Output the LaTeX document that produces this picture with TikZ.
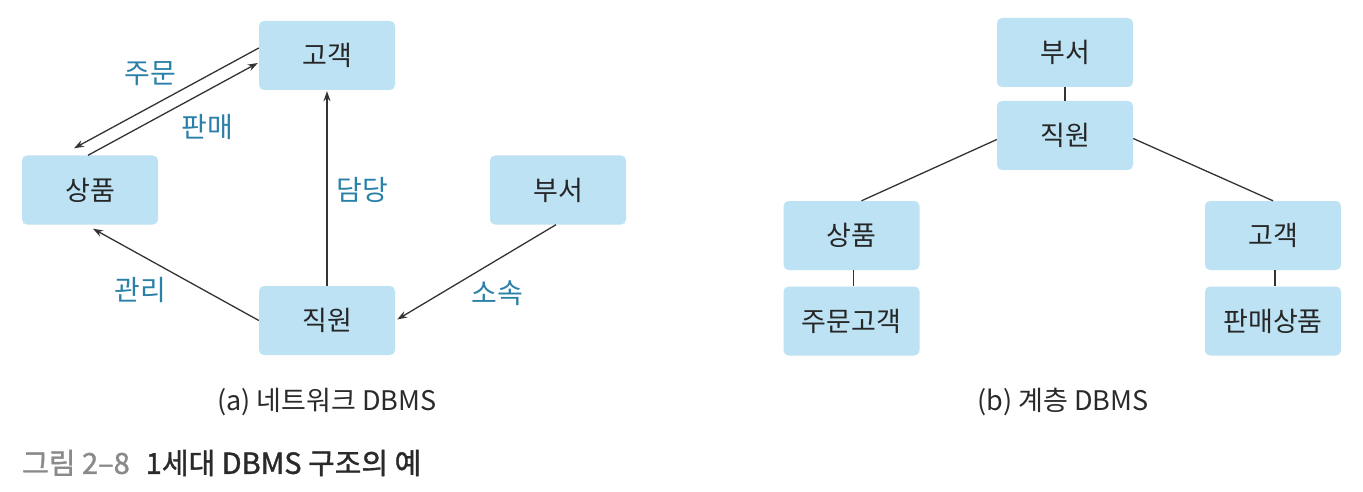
\documentclass[tikz,border=0pt]{standalone}
\usepackage{fontspec}
\setmainfont{Noto Sans CJK KR}
\newfontfamily\capfont{Noto Sans CJK KR}[FakeBold=1.2]
\usetikzlibrary{arrows.meta}
\definecolor{boxfill}{HTML}{BCE2F4}
\definecolor{lblue}{HTML}{2A80A8}
\definecolor{lineg}{HTML}{333333}
\definecolor{capgray}{HTML}{8A8A8A}
\definecolor{captext}{HTML}{2A2A2A}
\tikzset{
  ent/.style={fill=boxfill, draw=none, rounded corners=5pt, minimum width=136pt, minimum height=69pt, inner sep=0pt, font=\fontsize{27}{30}\selectfont, text=black!85},
  con/.style={draw=lineg, line width=1.3pt},
  arr/.style={con, -{Stealth[length=10pt,width=7pt]}},
  lab/.style={text=lblue, font=\fontsize{28}{30}\selectfont, inner sep=0pt},
  captxt/.style={font=\fontsize{27}{30}\selectfont, text=captext, inner sep=0pt}
}
\begin{document}
\begin{tikzpicture}[x=1pt,y=-1pt]
\useasboundingbox (0,0) rectangle (1363,492);
% (a) network
\node[ent] (go) at (327,55.5) {고객};
\node[ent] (sp) at (90,190) {상품};
\node[ent] (bs) at (558,190) {부서};
\node[ent] (jw) at (327,320.5) {직원};
\draw[arr] ([yshift=7.5pt]go.west) -- ([xshift=-16pt,yshift=7pt]sp.north);
\draw[arr] ([xshift=-2pt]sp.north) -- ([yshift=-7.5pt,xshift=-1pt]go.west);
\draw[arr] (jw.north) -- ([yshift=-1pt]go.south);
\draw[arr] (jw.west) -- ([xshift=3pt,yshift=-4pt]sp.south);
\draw[arr] ([xshift=-2pt]bs.south) -- ([xshift=2pt,yshift=1pt]jw.east);
\node[lab] (l1) at (150,74) {주문};
\node[lab] (l2) at (207,127) {판매};
\node[lab] (l3) at (362,190) {담당};
\node[lab] (l4) at (140,290) {관리};
\node[lab] (l5) at (497,293) {소속};
\node[captxt] (ca) at (327,402) {(a) 네트워크 DBMS};
% (b) hierarchical
\node[ent] (hb) at (1065,52.5) {부서};
\node[ent] (hj) at (1065,135.5) {직원};
\node[ent] (hs) at (851.5,235.5) {상품};
\node[ent] (hc) at (1273,235.5) {고객};
\node[ent] (ho) at (851.5,321) {주문고객};
\node[ent] (hp) at (1273,321) {판매상품};
\draw[con] (hb) -- (hj);
\draw[con] ([yshift=-4pt]hj.west) -- ([xshift=10pt]hs.north);
\draw[con] ([yshift=-3pt]hj.east) -- (hc.north);
\draw[con] ([xshift=2pt]hs.south) -- ([xshift=2pt]ho.north);
\draw[con] ([xshift=2pt]hc.south) -- ([xshift=2pt]hp.north);
\node[captxt] (cb) at (1063,402) {(b) 계층 DBMS};
% figure caption
\node[anchor=west, inner sep=0pt, font=\capfont\fontsize{29}{32}\selectfont] (fig) at (22,463) {\textcolor{capgray}{그림 2–8}\hspace{16pt}\textcolor{captext}{1세대 DBMS 구조의 예}};
\end{tikzpicture}
\end{document}
